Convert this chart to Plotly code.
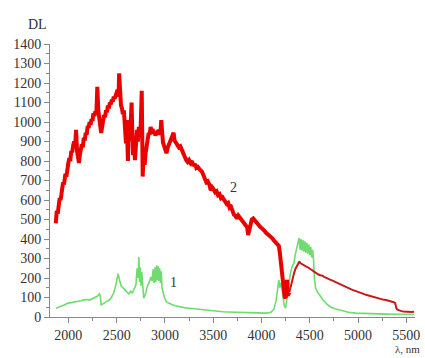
import plotly.graph_objects as go

# Curve 2 (red)
red_lambda = [1870, 1880, 1890, 1900, 1910, 1920, 1930, 1945, 1955, 1970, 1980, 1990, 2000, 2010, 2020, 2030, 2040,
              2050, 2060, 2070, 2080, 2090, 2100, 2110, 2120, 2130, 2140, 2150, 2160, 2170, 2180, 2190, 2200,
              2210, 2220, 2230, 2240, 2250, 2260, 2270, 2280, 2290, 2300, 2310, 2320, 2330, 2340, 2350, 2360,
              2370, 2380, 2390, 2400, 2410, 2420, 2430, 2440, 2450, 2460, 2470, 2480, 2490, 2500, 2510, 2520,
              2526, 2535, 2545, 2555, 2565, 2575, 2585, 2597, 2605, 2617, 2625, 2635, 2645, 2655, 2662, 2670,
              2680, 2690, 2700, 2710, 2720, 2730, 2740, 2750, 2760, 2770, 2780, 2790, 2800, 2812, 2822, 2832,
              2842, 2852, 2862, 2872, 2882, 2892, 2902, 2912, 2922, 2934, 2945, 2955, 2962, 2970, 2980, 2990,
              3000, 3016, 3030, 3040, 3055, 3067, 3080, 3090, 3100, 3115, 3130, 3145, 3160, 3175, 3190, 3205,
              3220, 3235, 3250, 3265, 3280, 3295, 3310, 3325, 3340, 3355, 3372, 3385, 3400, 3415, 3430, 3445,
              3460, 3475, 3490, 3505, 3520, 3535, 3550, 3565, 3580, 3595, 3610, 3625, 3640, 3655, 3670, 3685,
              3700, 3715, 3730, 3745, 3760, 3775, 3790, 3805, 3820, 3835, 3852, 3862, 3870, 3885, 3900, 3915,
              3930, 3945, 3960, 3975, 3990, 4005, 4020, 4035, 4050, 4065, 4080, 4095, 4110, 4125, 4140, 4155,
              4170, 4180, 4190, 4200, 4210, 4220, 4230, 4240, 4250, 4258, 4265, 4272, 4280, 4290, 4300, 4310,
              4320, 4335, 4350, 4365, 4380, 4393, 4405, 4420, 4435, 4450, 4465, 4480, 4495, 4510, 4525, 4540,
              4555, 4570, 4590, 4610, 4630, 4650, 4670, 4690, 4710, 4730, 4750, 4770, 4790, 4810, 4830, 4850,
              4870, 4890, 4910, 4930, 4950, 4970, 4990, 5010, 5030, 5050, 5070, 5090, 5110, 5130, 5150, 5170,
              5190, 5210, 5230, 5250, 5270, 5290, 5310, 5330, 5350, 5370, 5383, 5392, 5400, 5415, 5430, 5450,
              5470, 5490, 5510, 5530, 5556, 5580]
red_value = [480, 545, 530, 560, 610, 600, 650, 690, 680, 735, 720, 770, 790, 815, 800, 850, 845,
             880, 900, 870, 960, 850, 805, 790, 835, 860, 885, 870, 920, 905, 945, 935, 980,
             970, 1000, 985, 1015, 1005, 1045, 1030, 1055, 1040, 1180, 1060, 1020, 980, 944, 975, 1000,
             1035, 1025, 1060, 1050, 1085, 1070, 1100, 1090, 1115, 1105, 1130, 1120, 1145, 1150, 1165, 1130,
             1250, 1125, 1085, 1070, 1040, 1060, 960, 890, 1010, 800, 990, 905, 980, 1100, 950, 830,
             900, 805, 880, 960, 900, 975, 920, 990, 1160, 720, 850, 780, 840, 890, 920, 945,
             935, 975, 950, 965, 940, 955, 930, 950, 935, 960, 935, 950, 1010, 925, 895, 880,
             860, 840, 870, 885, 900, 915, 935, 945, 905, 890, 880, 870, 875, 855, 845, 820,
             805, 795, 805, 790, 800, 775, 785, 765, 770, 760, 750, 745, 725, 710, 690, 695,
             680, 650, 665, 655, 640, 645, 625, 630, 610, 615, 600, 595, 580, 585, 560, 565,
             545, 525, 520, 505, 520, 510, 495, 490, 480, 470, 460, 420, 440, 470, 500, 505,
             495, 485, 475, 470, 460, 455, 450, 440, 430, 425, 415, 410, 405, 395, 385, 380,
             370, 365, 330, 280, 220, 160, 120, 105, 97, 130, 190, 110, 120, 128, 150, 175,
             195, 220, 245, 262, 275, 285, 275, 270, 265, 262, 258, 255, 250, 245, 238, 232,
             226, 222, 218, 214, 212, 206, 200, 196, 192, 188, 183, 180, 174, 168, 164, 158,
             155, 150, 146, 142, 138, 134, 128, 126, 122, 118, 116, 113, 110, 106, 102, 100,
             97, 95, 93, 90, 88, 87, 85, 82, 80, 76, 72, 55, 42, 36, 32, 30,
             28, 27, 27, 26, 26, 27]

# Curve 1 (green)
green_lambda = [1870, 1890, 1910, 1930, 1950, 1970, 1990, 2015, 2040, 2070, 2100, 2130, 2160, 2190, 2219,
                2250, 2280, 2300, 2321, 2330, 2340, 2360, 2380, 2400, 2424, 2445, 2470, 2495, 2505, 2515,
                2530, 2546, 2570, 2600, 2627, 2645, 2660, 2680, 2700, 2712, 2722, 2730, 2738, 2745, 2752,
                2760, 2770, 2781, 2800, 2820, 2840, 2855, 2868, 2878, 2888, 2898, 2906, 2914, 2922, 2930,
                2938, 2946, 2954, 2962, 2970, 2980, 2995, 3016, 3040, 3070, 3107, 3150, 3200, 3250, 3300,
                3350, 3400, 3444, 3500, 3550, 3600, 3650, 3700, 3750, 3800, 3852, 3900, 3950, 4000, 4050,
                4100, 4128, 4150, 4165, 4180, 4190, 4200, 4210, 4220, 4235, 4250, 4265, 4280, 4300, 4320,
                4335, 4350, 4365, 4380, 4390, 4400, 4410, 4420, 4430, 4440, 4450, 4460, 4470, 4480, 4490,
                4500, 4510, 4520, 4530, 4540, 4548, 4560, 4580, 4600, 4638, 4680, 4720, 4760, 4800, 4850,
                4900, 4975, 5050, 5100, 5200, 5300, 5400, 5500, 5580]
green_value = [45, 48, 52, 55, 60, 64, 70, 72, 76, 78, 80, 83, 88, 90, 87,
               95, 100, 106, 118, 110, 62, 66, 74, 80, 87, 100, 123, 170, 200, 222,
               190, 160, 148, 130, 118, 132, 124, 142, 165, 250, 200, 308, 180, 255, 160,
               230, 130, 97, 120, 160, 180, 205, 185, 245, 175, 255, 180, 265, 190, 260,
               185, 250, 175, 235, 150, 125, 100, 77, 70, 64, 58, 52, 48, 45, 42,
               40, 39, 36, 31, 29, 27, 26, 25, 26, 25, 24, 22, 21, 20, 20,
               24, 40, 80, 140, 190, 150, 175, 154, 110, 60, 45, 100, 180, 225, 262,
               275, 320, 360, 385, 405, 345, 400, 340, 395, 335, 388, 330, 380, 325, 372,
               318, 360, 305, 345, 290, 200, 150, 128, 112, 87, 65, 50, 42, 36, 28,
               24, 20, 18, 17, 16, 15, 14, 13, 13]

label_text = ["1", "2"]
label_lambda = [3090, 3715]
label_value = [175, 665]

split = 4290
red_a_x = [l for l in red_lambda if l <= split]
red_a_y = [v for l, v in zip(red_lambda, red_value) if l <= split]
red_b_x = [l for l in red_lambda if l >= split]
red_b_y = [v for l, v in zip(red_lambda, red_value) if l >= split]

font_family = "Liberation Serif, Times New Roman, serif"

fig = go.Figure()
fig.add_trace(go.Scatter(x=green_lambda, y=green_value, mode="lines",
                         line=dict(color="rgb(110,220,110)", width=1.6), showlegend=False))
fig.add_trace(go.Scatter(x=red_a_x, y=red_a_y, mode="lines",
                         line=dict(color="rgb(235,0,0)", width=4), showlegend=False))
fig.add_trace(go.Scatter(x=red_b_x, y=red_b_y, mode="lines",
                         line=dict(color="rgb(200,25,25)", width=2), showlegend=False))

for t, lx, ly in zip(label_text, label_lambda, label_value):
    fig.add_annotation(x=lx, y=ly, text=t, showarrow=False,
                       font=dict(family=font_family, size=14, color="#333"))

fig.add_annotation(xref="paper", yref="paper", x=-0.065, y=1.105, text="DL", showarrow=False,
                   font=dict(family=font_family, size=14, color="#333"))
fig.add_annotation(xref="paper", yref="paper", x=1.02, y=-0.148, xanchor="right", yanchor="bottom",
                   text="λ, nm", showarrow=False,
                   font=dict(family=font_family, size=11, color="#333"))

axis_common = dict(showgrid=False, zeroline=False, showline=True, linecolor="#888", linewidth=1,
                   ticks="outside", ticklen=5, tickcolor="#888", tickwidth=1,
                   tickfont=dict(family=font_family, size=14, color="#333"))

fig.update_xaxes(range=[1810, 5590], tickmode="linear", tick0=0, dtick=500,
                 ticklabeloverflow="allow",
                 minor=dict(ticks="outside", ticklen=3, dtick=250, tick0=0, tickcolor="#888"),
                 **axis_common)
fig.update_yaxes(range=[0, 1400], tickmode="linear", tick0=0, dtick=100,
                 minor=dict(ticks="outside", ticklen=3, dtick=50, tick0=0, tickcolor="#888"),
                 **axis_common)

fig.update_layout(width=425, height=358, margin=dict(l=50, r=5, t=44, b=41),
                  plot_bgcolor="white", paper_bgcolor="white")

fig.write_html("out.html")
